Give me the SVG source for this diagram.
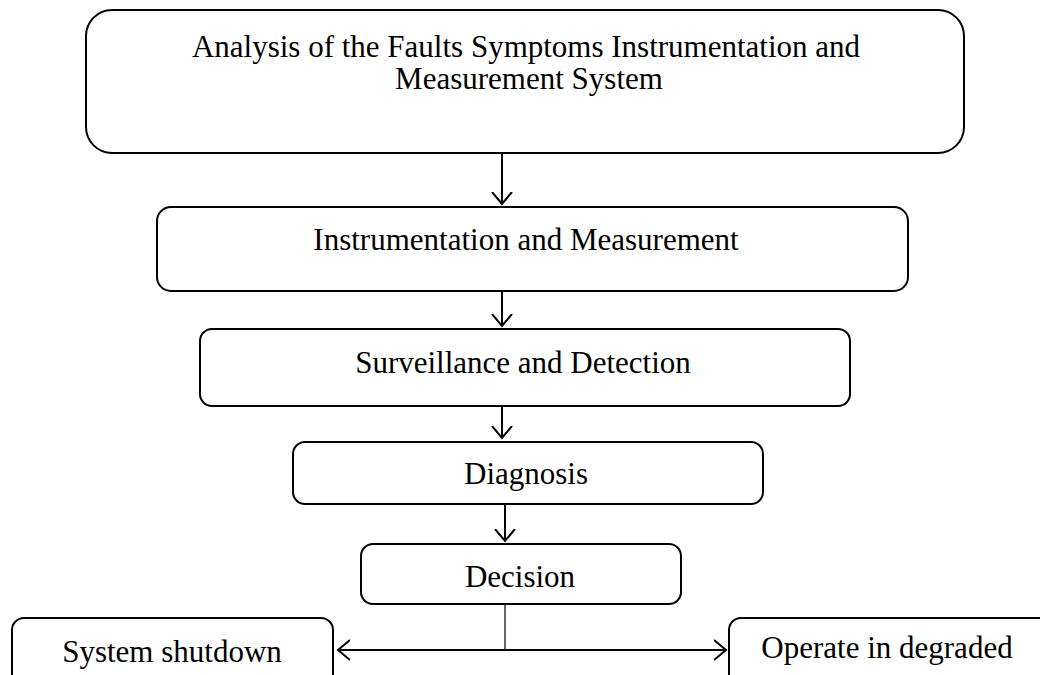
<svg xmlns="http://www.w3.org/2000/svg" width="1040" height="675" viewBox="0 0 1040 675">
<defs>
<style>
.box{fill:#fff;stroke:#000;stroke-width:2}
.t{font-family:"Liberation Serif","Times New Roman",serif;font-size:31px;fill:#000;text-anchor:middle}
.c{fill:none;stroke:#000;stroke-width:2}
</style>
<marker id="ah" markerWidth="14" markerHeight="26" refX="12" refY="11" orient="auto" markerUnits="userSpaceOnUse" viewBox="0 0 14 26">
<path d="M0,1 L12,11 L0,21" fill="none" stroke="#000" stroke-width="2"/>
</marker>
</defs>
<rect width="1040" height="675" fill="#fff"/>
<g id="n1"><rect class="box" x="86" y="10" width="878" height="143" rx="26"/>
<text class="t" x="526" y="57" font-size="32">Analysis of the Faults Symptoms Instrumentation and</text>
<text class="t" x="529" y="89" font-size="32">Measurement System</text></g>
<g id="n2"><rect class="box" x="157" y="207" width="751" height="84" rx="14"/>
<text class="t" x="526" y="250" font-size="34">Instrumentation and Measurement</text></g>
<g id="n3"><rect class="box" x="200" y="329" width="650" height="77" rx="12"/>
<text class="t" x="523" y="373" font-size="32">Surveillance and Detection</text></g>
<g id="n4"><rect class="box" x="293" y="442" width="470" height="62" rx="12"/>
<text class="t" x="526" y="484" font-size="30.5">Diagnosis</text></g>
<g id="n5"><rect class="box" x="361" y="544" width="320" height="60" rx="12"/>
<text class="t" x="520" y="587">Decision</text></g>
<g id="n6"><rect class="box" x="12" y="618" width="321" height="72" rx="12"/>
<text class="t" x="172" y="662" font-size="32">System shutdown</text></g>
<g id="n7"><rect class="box" x="729" y="618" width="330" height="72" rx="12"/>
<text class="t" x="887" y="658" font-size="29">Operate in degraded</text></g>
<g id="connectors">
<line class="c" x1="502" y1="153" x2="502" y2="204" marker-end="url(#ah)"/>
<line class="c" x1="502" y1="291" x2="502" y2="326" marker-end="url(#ah)"/>
<line class="c" x1="502" y1="406" x2="502" y2="438" marker-end="url(#ah)"/>
<line class="c" x1="505" y1="504" x2="505" y2="541" marker-end="url(#ah)"/>
<line x1="505" y1="604" x2="505" y2="650" stroke="#000" stroke-width="1.2"/>
<line class="c" x1="505" y1="650" x2="338" y2="650" marker-end="url(#ah)"/>
<line class="c" x1="505" y1="650" x2="726" y2="650" marker-end="url(#ah)"/>
</g>
</svg>
